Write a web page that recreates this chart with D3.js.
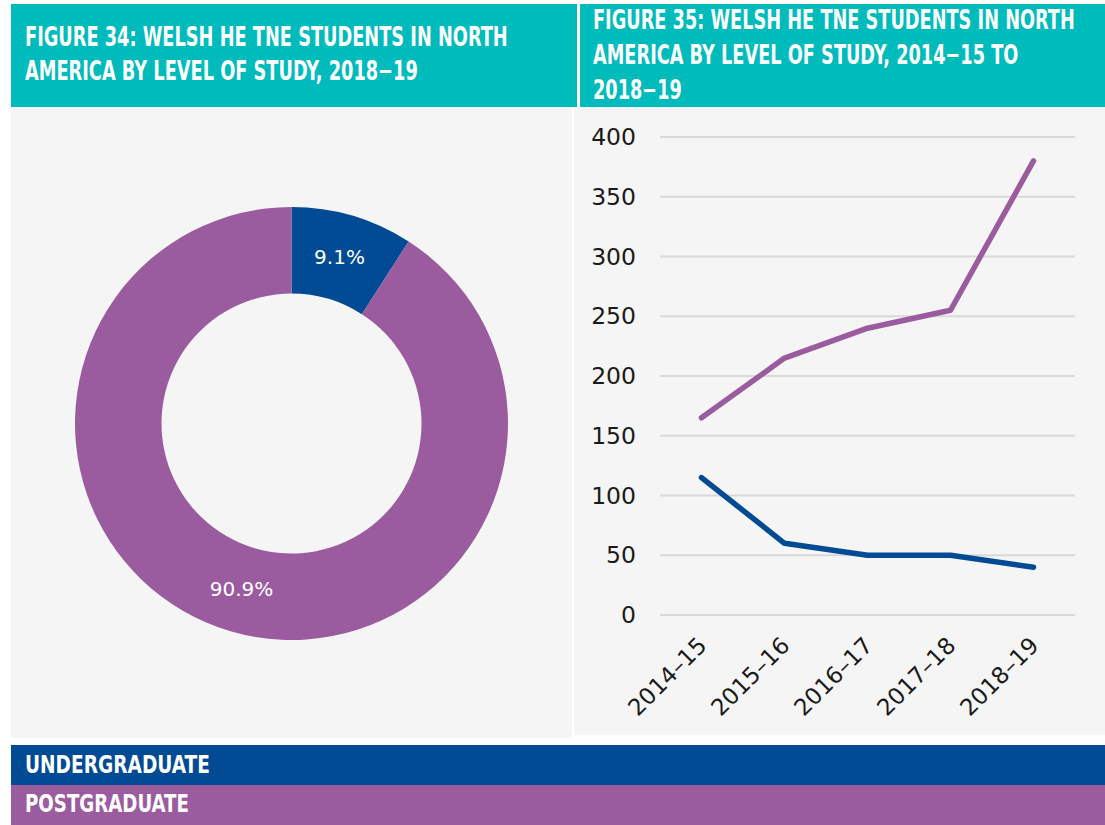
<!DOCTYPE html>
<html><head><meta charset="utf-8">
<script src="https://cdn.jsdelivr.net/npm/d3@7"></script>
<style>
html,body{margin:0;padding:0;background:#fff;}
svg{display:block;}
</style></head>
<body>
<svg id="c" width="1105" height="825"></svg>
<script>
const levels = ["Undergraduate", "Postgraduate"];
const shares2019 = [9.1, 90.9];
const years = ["2014–15", "2015–16", "2016–17", "2017–18", "2018–19"];
const undergraduate = [115, 60, 50, 50, 40];
const postgraduate = [165, 215, 240, 255, 380];
const yTicks = [0, 50, 100, 150, 200, 250, 300, 350, 400];
const title34 = ["FIGURE 34: WELSH HE TNE STUDENTS IN NORTH", "AMERICA BY LEVEL OF STUDY, 2018−19"];
const title35 = ["FIGURE 35: WELSH HE TNE STUDENTS IN NORTH", "AMERICA BY LEVEL OF STUDY, 2014−15 TO", "2018−19"];
const legendLabels = ["UNDERGRADUATE", "POSTGRADUATE"];

const colors = d3.scaleOrdinal().domain(levels).range(["#004B93", "#9B5C9F"]);
const teal = "#00BBBB";
const panelBg = "#F5F5F5";
const headFont = "'DejaVu Sans Condensed','Liberation Sans',sans-serif";
const bodyFont = "'DejaVu Sans',sans-serif";

const svg = d3.select("#c");

// headers
svg.append("rect").attr("x", 11).attr("y", 4).attr("width", 566).attr("height", 103).attr("fill", teal);
svg.append("rect").attr("x", 580).attr("y", 4).attr("width", 525).attr("height", 103).attr("fill", teal);
// panels
svg.append("rect").attr("x", 11).attr("y", 107).attr("width", 561).attr("height", 631).attr("fill", panelBg);
svg.append("rect").attr("x", 574).attr("y", 107).attr("width", 531).attr("height", 628).attr("fill", panelBg);

// condensed header text: squeeze horizontally so first line spans target width
function header(lines, x, y0, dy, size, targetFirst) {
  const g = svg.append("g");
  const t = g.append("text").attr("fill", "#fff").attr("font-family", headFont)
    .attr("font-weight", "bold").attr("font-size", size);
  const spans = lines.map((l, i) => t.append("tspan").attr("x", 0).attr("y", y0 + i * dy).text(l));
  const w = spans[0].node().getComputedTextLength();
  const sx = targetFirst / w;
  g.attr("transform", `translate(${x},0) scale(${sx},1)`);
}
header(title34, 25, 46, 34.5, 26.5, 483);
header(title35, 593, 29, 35, 26.5, 482);

// donut
const pie = d3.pie().sort(null).value(d => d)(shares2019);
const arc = d3.arc().innerRadius(130).outerRadius(216.5);
const g = svg.append("g").attr("transform", "translate(291.5,423.5)");
g.selectAll("path").data(pie).join("path")
  .attr("d", arc).attr("fill", (d, i) => colors(levels[i]));
const labelPos = [[48, -165], [-50, 167]];
g.selectAll("text.lab").data(pie).join("text").attr("class", "lab")
  .attr("x", (d, i) => labelPos[i][0]).attr("y", (d, i) => labelPos[i][1])
  .attr("text-anchor", "middle").attr("dominant-baseline", "middle")
  .attr("fill", "#fff").attr("font-family", bodyFont)
  .attr("font-size", 20)
  .text(d => d.data.toFixed(1) + "%");

// line chart
const x = d3.scalePoint().domain(years).range([701.5, 1033.5]);
const y = d3.scaleLinear().domain([0, 400]).range([615, 137]);

const grid = svg.append("g");
grid.selectAll("line").data(yTicks).join("line")
  .attr("x1", 660).attr("x2", 1075)
  .attr("y1", d => y(d)).attr("y2", d => y(d))
  .attr("stroke", "#D9D9D9").attr("stroke-width", 2);

const yAxis = svg.append("g").attr("transform", "translate(636,0)")
  .call(d3.axisLeft(y).tickValues(yTicks).tickSize(0).tickPadding(0));
yAxis.select(".domain").remove();
yAxis.selectAll("text").attr("font-size", 23.5).attr("fill", "#1a1a1a")
  .attr("font-family", bodyFont);

const xAxis = svg.append("g").attr("transform", "translate(0,628)")
  .call(d3.axisBottom(x).tickSize(0).tickPadding(0));
xAxis.select(".domain").remove();
xAxis.selectAll("text").attr("font-size", 23).attr("fill", "#1a1a1a")
  .attr("font-family", bodyFont)
  .attr("text-anchor", "end").attr("dy", 0)
  .attr("transform", "translate(6,19) rotate(-45)");

const line = d3.line().x((d, i) => x(years[i])).y(d => y(d));
[[undergraduate, levels[0]], [postgraduate, levels[1]]].forEach(([vals, lv]) => {
  svg.append("path").datum(vals).attr("d", line).attr("fill", "none")
    .attr("stroke", colors(lv)).attr("stroke-width", 5.5)
    .attr("stroke-linecap", "round").attr("stroke-linejoin", "round");
});

// legend bars
legendLabels.forEach((l, i) => {
  svg.append("rect").attr("x", 11).attr("y", 745 + i * 40).attr("width", 1094).attr("height", 40)
    .attr("fill", colors(levels[i]));
});
header([legendLabels[0]], 25, 773, 0, 24, 185);
header([legendLabels[1]], 25, 812, 0, 24, 164);
</script>
</body></html>
